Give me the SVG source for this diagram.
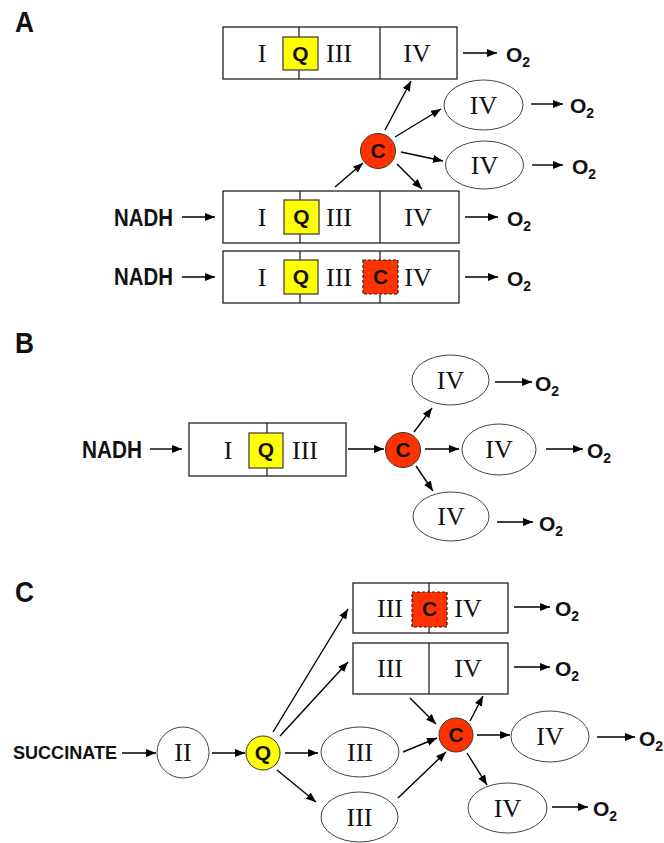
<svg xmlns="http://www.w3.org/2000/svg" width="664" height="843" viewBox="0 0 664 843">
<defs>
<style>
.box{fill:#fff;stroke:#222;stroke-width:1.3}
.dv{stroke:#222;stroke-width:1.3}
.ell{fill:#fff;stroke:#444;stroke-width:1}
.q{fill:#ffff00;stroke:#444;stroke-width:1.3}
.cc{fill:#ff3300;stroke:#333;stroke-width:1}
.cd{fill:#ff3300;stroke:#222;stroke-width:1.2;stroke-dasharray:3 2}
.rom{font-family:"Liberation Serif",serif;font-size:26px;text-anchor:middle;fill:#111}
.sans{font-family:"Liberation Sans",Arial,sans-serif;font-weight:bold;fill:#111}
.mol{font-size:21px;text-anchor:middle}
.o2{font-size:21px}
.sub{font-size:14px}
.lab{font-size:29px}
.arr{stroke:#000;stroke-width:1.4;fill:none;marker-end:url(#ah)}
</style>
<marker id="ah" markerUnits="userSpaceOnUse" markerWidth="11" markerHeight="9" refX="10" refY="4" orient="auto">
<path d="M0,0 L10,4 L0,8 z" fill="#000"/>
</marker>
</defs>
<rect width="664" height="843" fill="#fff"/>

<!-- Panel labels -->
<text class="sans lab" x="15" y="32" textLength="19" lengthAdjust="spacingAndGlyphs">A</text>
<text class="sans lab" x="15" y="353" textLength="19" lengthAdjust="spacingAndGlyphs">B</text>
<text class="sans lab" x="15" y="602" textLength="19" lengthAdjust="spacingAndGlyphs">C</text>

<g id="connectors">
<!-- Panel A -->
<line class="arr" x1="463" y1="53" x2="497" y2="53"/>
<line class="arr" x1="531" y1="104" x2="563" y2="104"/>
<line class="arr" x1="532" y1="165" x2="563" y2="165"/>
<line class="arr" x1="465" y1="217" x2="498" y2="217"/>
<line class="arr" x1="465" y1="277" x2="498" y2="277"/>
<line class="arr" x1="182" y1="217" x2="215" y2="217"/>
<line class="arr" x1="182" y1="277" x2="215" y2="277"/>
<line class="arr" x1="385" y1="130" x2="411" y2="81"/>
<line class="arr" x1="395" y1="137" x2="441" y2="109"/>
<line class="arr" x1="401" y1="152" x2="443" y2="161"/>
<line class="arr" x1="397" y1="164" x2="422" y2="189"/>
<line class="arr" x1="335" y1="187" x2="363" y2="163"/>
<!-- Panel B -->
<line class="arr" x1="150" y1="449" x2="182" y2="449"/>
<line class="arr" x1="348" y1="449" x2="384" y2="449"/>
<line class="arr" x1="425" y1="449" x2="459" y2="449"/>
<line class="arr" x1="414" y1="432" x2="432" y2="408"/>
<line class="arr" x1="416" y1="466" x2="433" y2="491"/>
<line class="arr" x1="546" y1="449" x2="583" y2="449"/>
<line class="arr" x1="495" y1="382" x2="532" y2="382"/>
<line class="arr" x1="497" y1="522" x2="533" y2="522"/>
<!-- Panel C -->
<line class="arr" x1="122" y1="753" x2="156" y2="753"/>
<line class="arr" x1="212" y1="753" x2="245" y2="753"/>
<line class="arr" x1="285" y1="753" x2="318" y2="753"/>
<line class="arr" x1="277" y1="770" x2="316" y2="802"/>
<line class="arr" x1="273" y1="732" x2="348" y2="609"/>
<line class="arr" x1="280" y1="736" x2="348" y2="662"/>
<line class="arr" x1="514" y1="607" x2="550" y2="607"/>
<line class="arr" x1="514" y1="667" x2="550" y2="667"/>
<line class="arr" x1="410" y1="698" x2="436" y2="724"/>
<line class="arr" x1="470" y1="721" x2="483" y2="696"/>
<line class="arr" x1="403" y1="752" x2="437" y2="738"/>
<line class="arr" x1="398" y1="798" x2="446" y2="752"/>
<line class="arr" x1="477" y1="735" x2="510" y2="735"/>
<line class="arr" x1="467" y1="753" x2="487" y2="785"/>
<line class="arr" x1="597" y1="737" x2="635" y2="737"/>
<line class="arr" x1="552" y1="807" x2="588" y2="807"/>
</g>

<!-- ===== Panel A ===== -->
<g id="A-sc1">
<rect class="box" x="223" y="27" width="234" height="52"/>
<line class="dv" x1="299" y1="27" x2="299" y2="79"/>
<line class="dv" x1="380" y1="27" x2="380" y2="79"/>
<rect class="q" x="283" y="37" width="35" height="33"/>
<text class="rom" x="262" y="62">I</text>
<text class="sans mol" x="300.5" y="61">Q</text>
<text class="rom" x="339" y="62">III</text>
<text class="rom" x="417" y="62">IV</text>
</g>
<g id="A-iv1">
<ellipse class="ell" cx="483.5" cy="105" rx="39.5" ry="25"/>
<text class="rom" x="483.5" y="114">IV</text>
</g>
<g id="A-iv2">
<ellipse class="ell" cx="484.5" cy="165" rx="39" ry="24"/>
<text class="rom" x="484.5" y="174">IV</text>
</g>
<g id="A-c">
<circle class="cc" cx="378" cy="151" r="17.5"/>
<text class="sans mol" x="378" y="158">C</text>
</g>
<g id="A-sc2">
<rect class="box" x="223" y="191" width="236" height="52"/>
<line class="dv" x1="300" y1="191" x2="300" y2="243"/>
<line class="dv" x1="380" y1="191" x2="380" y2="243"/>
<rect class="q" x="284" y="200" width="35" height="34"/>
<text class="rom" x="262" y="226">I</text>
<text class="sans mol" x="301.5" y="224">Q</text>
<text class="rom" x="339" y="226">III</text>
<text class="rom" x="418" y="226">IV</text>
</g>
<g id="A-sc3">
<rect class="box" x="223" y="251" width="236" height="52"/>
<line class="dv" x1="300" y1="251" x2="300" y2="303"/>
<line class="dv" x1="380" y1="251" x2="380" y2="303"/>
<rect class="q" x="284" y="260" width="34" height="34"/>
<rect class="cd" x="363" y="260" width="35" height="34"/>
<text class="rom" x="262" y="286">I</text>
<text class="sans mol" x="301" y="284">Q</text>
<text class="rom" x="339" y="286">III</text>
<text class="sans mol" x="380.5" y="284">C</text>
<text class="rom" x="418" y="286">IV</text>
</g>
<g id="A-nadh1"><text class="sans" font-size="23" x="114" y="226" textLength="59" lengthAdjust="spacingAndGlyphs">NADH</text></g>
<g id="A-nadh2"><text class="sans" font-size="23" x="114" y="285" textLength="59" lengthAdjust="spacingAndGlyphs">NADH</text></g>
<g id="A-o2-1"><text class="sans o2" x="506" y="62">O<tspan class="sub" dy="5">2</tspan></text></g>
<g id="A-o2-2"><text class="sans o2" x="570" y="113">O<tspan class="sub" dy="5">2</tspan></text></g>
<g id="A-o2-3"><text class="sans o2" x="572" y="174">O<tspan class="sub" dy="5">2</tspan></text></g>
<g id="A-o2-4"><text class="sans o2" x="507" y="226">O<tspan class="sub" dy="5">2</tspan></text></g>
<g id="A-o2-5"><text class="sans o2" x="507" y="286">O<tspan class="sub" dy="5">2</tspan></text></g>

<!-- ===== Panel B ===== -->
<g id="B-nadh"><text class="sans" font-size="23" x="82" y="458" textLength="60" lengthAdjust="spacingAndGlyphs">NADH</text></g>
<g id="B-sc">
<rect class="box" x="189" y="423" width="157" height="53"/>
<line class="dv" x1="267" y1="423" x2="267" y2="476"/>
<rect class="q" x="249" y="433" width="34" height="35"/>
<text class="rom" x="228" y="459">I</text>
<text class="sans mol" x="266" y="457">Q</text>
<text class="rom" x="305" y="459">III</text>
</g>
<g id="B-c">
<circle class="cc" cx="403" cy="450" r="17.5"/>
<text class="sans mol" x="403" y="457">C</text>
</g>
<g id="B-iv-top">
<ellipse class="ell" cx="450.5" cy="380" rx="38.5" ry="25"/>
<text class="rom" x="450.5" y="389">IV</text>
</g>
<g id="B-iv-mid">
<ellipse class="ell" cx="499" cy="449.5" rx="37" ry="25.5"/>
<text class="rom" x="499" y="458">IV</text>
</g>
<g id="B-iv-bot">
<ellipse class="ell" cx="451" cy="516.5" rx="38" ry="24.5"/>
<text class="rom" x="451" y="525">IV</text>
</g>
<g id="B-o2-1"><text class="sans o2" x="535" y="391">O<tspan class="sub" dy="5">2</tspan></text></g>
<g id="B-o2-2"><text class="sans o2" x="587" y="458">O<tspan class="sub" dy="5">2</tspan></text></g>
<g id="B-o2-3"><text class="sans o2" x="539" y="531">O<tspan class="sub" dy="5">2</tspan></text></g>

<!-- ===== Panel C ===== -->
<g id="C-succ"><text class="sans" font-size="18" x="13" y="759" textLength="104" lengthAdjust="spacingAndGlyphs">SUCCINATE</text></g>
<g id="C-ii">
<ellipse class="ell" cx="183" cy="752.5" rx="26" ry="25.5"/>
<text class="rom" x="183" y="761">II</text>
</g>
<g id="C-q">
<circle class="q" cx="263" cy="753" r="17" style="stroke:#333;stroke-width:1"/>
<text class="sans mol" x="263" y="760">Q</text>
</g>
<g id="C-iii1">
<ellipse class="ell" cx="360" cy="752" rx="39" ry="25"/>
<text class="rom" x="360" y="761">III</text>
</g>
<g id="C-iii2">
<ellipse class="ell" cx="359.5" cy="817" rx="38.5" ry="25"/>
<text class="rom" x="359.5" y="826">III</text>
</g>
<g id="C-sc1">
<rect class="box" x="353" y="583" width="155" height="50"/>
<line class="dv" x1="429" y1="583" x2="429" y2="633"/>
<rect class="cd" x="412" y="592" width="35" height="35"/>
<text class="rom" x="390" y="617">III</text>
<text class="sans mol" x="429.5" y="616">C</text>
<text class="rom" x="468" y="617">IV</text>
</g>
<g id="C-sc2">
<rect class="box" x="353" y="643" width="155" height="51"/>
<line class="dv" x1="429" y1="643" x2="429" y2="694"/>
<text class="rom" x="390" y="677">III</text>
<text class="rom" x="468" y="677">IV</text>
</g>
<g id="C-c">
<circle class="cc" cx="456" cy="735" r="17"/>
<text class="sans mol" x="456" y="742">C</text>
</g>
<g id="C-iv1">
<ellipse class="ell" cx="550" cy="736.5" rx="39" ry="25.5"/>
<text class="rom" x="550" y="745">IV</text>
</g>
<g id="C-iv2">
<ellipse class="ell" cx="507.5" cy="808" rx="39.5" ry="25"/>
<text class="rom" x="507.5" y="817">IV</text>
</g>
<g id="C-o2-1"><text class="sans o2" x="555" y="616">O<tspan class="sub" dy="5">2</tspan></text></g>
<g id="C-o2-2"><text class="sans o2" x="555" y="676">O<tspan class="sub" dy="5">2</tspan></text></g>
<g id="C-o2-3"><text class="sans o2" x="639" y="746">O<tspan class="sub" dy="5">2</tspan></text></g>
<g id="C-o2-4"><text class="sans o2" x="593" y="816">O<tspan class="sub" dy="5">2</tspan></text></g>
</svg>
